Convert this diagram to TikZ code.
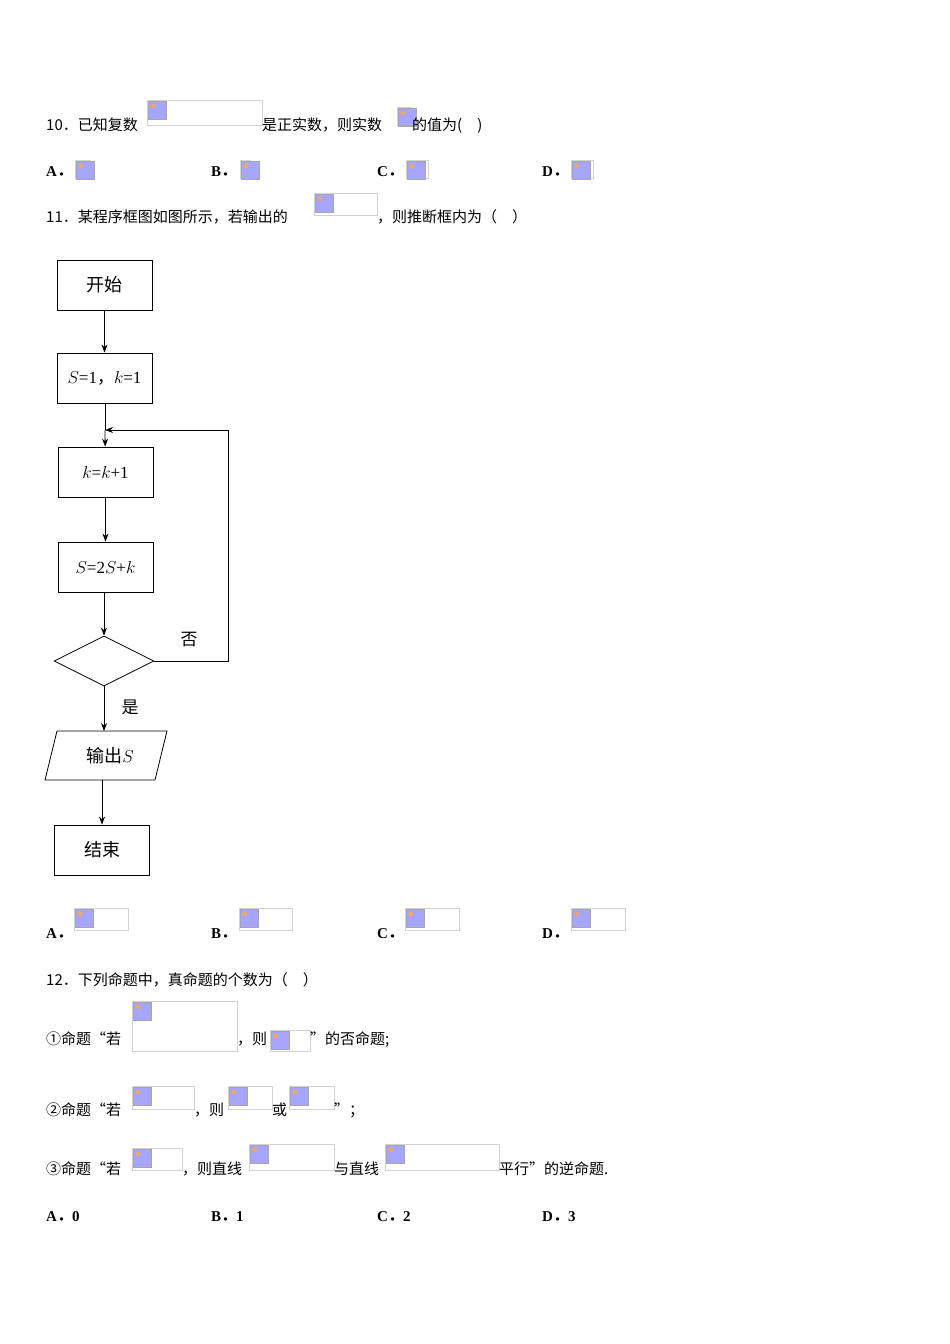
\documentclass[tikz,border=0pt]{standalone}
\usepackage{fontspec}
\setmainfont{Liberation Serif}
\newfontfamily\cjk{Noto Sans CJK SC}
\usetikzlibrary{shapes.geometric,arrows.meta}
\newcommand\phx[4]{\draw[phbox] (#1,#2) rectangle (#3,#4);
  \fill[blue!35] (#1+1,#2+1) rectangle (#1+19,#2+19);
  \draw[gray!70] (#1+1,#2+1) rectangle (#1+19,#2+19);
  \fill[orange!70] (#1+6,#2+6) circle (2.2);}
\newcommand\dd{{\cjk ．}}
\begin{document}
\begin{tikzpicture}[x=1pt,y=-1pt,
  phbox/.style={draw=gray!35,line width=0.6pt},
  txt/.style={anchor=base west,inner sep=0,font=\fontsize{15}{18}\selectfont\cjk},
  opt/.style={anchor=base west,inner sep=0,font=\fontsize{15}{18}\selectfont\bfseries},
  fbox/.style={draw,line width=0.8pt,minimum width=95pt,minimum height=50pt,font=\fontsize{18}{20}\selectfont\cjk},
  arr/.style={-{Stealth[length=8pt,width=6pt]},line width=0.8pt}]
\useasboundingbox (0,0) rectangle (950,1344);
% Q10
\node[txt] (q10a) at (46,130) {10．已知复数};
\phx{147}{100}{262}{125}
\node[txt] (q10b) at (262,130) {是正实数，则实数};
\phx{397}{107}{412}{125}
\node[txt] (q10c) at (412,130) {的值为(\quad)};
\node[opt] (o10a) at (46,176) {A\dd}; \phx{75}{160}{90}{178}
\node[opt] (o10b) at (211,176) {B\dd}; \phx{240}{160}{250}{178}
\node[opt] (o10c) at (377,176) {C\dd}; \phx{406}{160}{428}{178}
\node[opt] (o10d) at (542,176) {D\dd}; \phx{571}{160}{593}{178}
% Q11
\node[txt] (q11a) at (46,222) {11．某程序框图如图所示，若输出的};
\phx{314}{193}{377}{215}
\node[txt] (q11b) at (377,222) {，则推断框内为（\quad ）};
% flowchart
\node[fbox] (start) at (104.5,285) {开始};
\node[fbox,font=\fontsize{17}{20}\selectfont] (init) at (104.5,378) {$S$=1{\cjk ，}$k$=1};
\node[fbox,font=\fontsize{17}{20}\selectfont] (inc) at (105.5,472) {$k$=$k$+1};
\node[fbox,font=\fontsize{17}{20}\selectfont] (upd) at (105.5,567) {$S$=2$S$+$k$};
\node[draw,diamond,aspect=2,line width=0.8pt,minimum width=100pt,minimum height=50pt,inner sep=0] (dec) at (104,661) {};
\draw[line width=0.8pt] (45,780) -- (57,731) -- (167,731) -- (155,780) -- cycle;
\coordinate (outtop) at (104,731);
\coordinate (outbot) at (102,780);
\node[font=\fontsize{18}{20}\selectfont\cjk] (out) at (110,756) {输出$S$};
\node[fbox] (end) at (102,850) {结束};
\coordinate (j) at (105,430);
\coordinate (c1) at (228,661);
\coordinate (c2) at (228,430);
\draw[arr] (start) -- (init);
\draw[line width=0.8pt] (init.south -| j) -- (j);
\draw[arr] (j) -- (inc);
\draw[arr] (inc) -- (upd.north -| inc);
\draw[arr] (upd.south -| dec) -- (dec.north);
\draw[arr] (dec.east) -- (c1) -- (c2) -- (j);
\draw[arr] (dec.south) -- (outtop);
\draw[arr] (outbot) -- (end);
\node[font=\fontsize{17}{20}\selectfont\cjk] (no) at (189,640) {否};
\node[font=\fontsize{17}{20}\selectfont\cjk] (yes) at (130,707) {是};
% options 11
\node[opt] (o11a) at (46,938) {A\dd}; \phx{74}{908}{128}{930}
\node[opt] (o11b) at (211,938) {B\dd}; \phx{239}{908}{292}{930}
\node[opt] (o11c) at (377,938) {C\dd}; \phx{405}{908}{459}{930}
\node[opt] (o11d) at (542,938) {D\dd}; \phx{571}{908}{625}{930}
% Q12
\node[txt] (q12) at (46,985) {12．下列命题中，真命题的个数为（\quad ）};
\node[txt] (l1a) at (46,1044) {①命题“若};
\phx{132}{1001}{237}{1051}
\node[txt] (l1b) at (237,1044) {，则};
\phx{270}{1030}{310}{1051}
\node[txt] (l1c) at (310,1044) {”的否命题;};
\node[txt] (l2a) at (46,1115) {②命题“若};
\phx{132}{1086}{194}{1109}
\node[txt] (l2b) at (194,1115) {，则};
\phx{228}{1086}{272}{1109}
\node[txt] (l2c) at (272,1115) {或};
\phx{289}{1086}{334}{1109}
\node[txt] (l2d) at (334,1115) {”；};
\node[txt] (l3a) at (46,1174) {③命题“若};
\phx{132}{1148}{182}{1170}
\node[txt] (l3b) at (182,1174) {，则直线};
\phx{249}{1144}{334}{1170}
\node[txt] (l3c) at (334,1174) {与直线};
\phx{385}{1144}{499}{1170}
\node[txt] (l3d) at (499,1174) {平行”的逆命题.};
\node[opt] (o12a) at (46,1221) {A\dd 0};
\node[opt] (o12b) at (211,1221) {B\dd 1};
\node[opt] (o12c) at (377,1221) {C\dd 2};
\node[opt] (o12d) at (542,1221) {D\dd 3};
\end{tikzpicture}
\end{document}
